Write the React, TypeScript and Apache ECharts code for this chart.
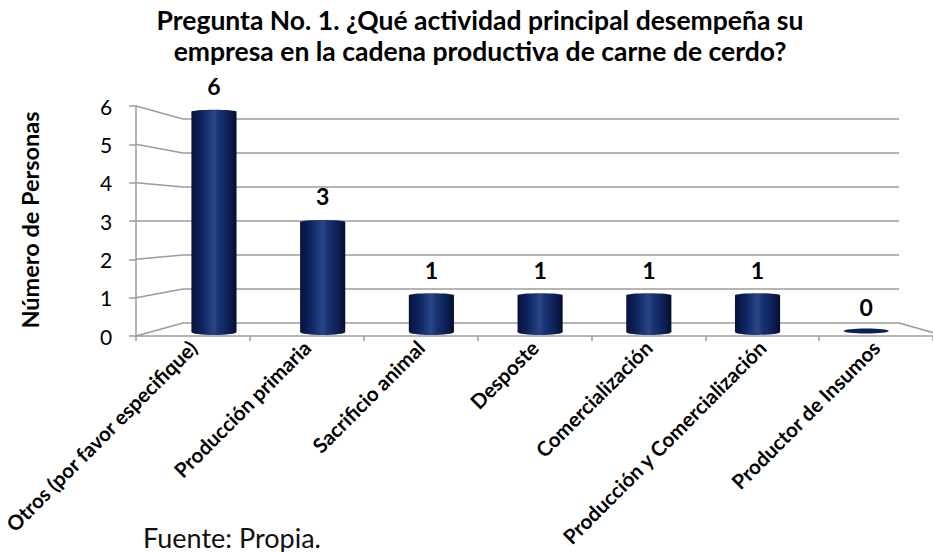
import React, { useEffect, useRef } from "react";
import * as echarts from "echarts";

const categories = [
  "Otros (por favor especifique)",
  "Producción primaria",
  "Sacrificio animal",
  "Desposte",
  "Comercialización",
  "Producción y Comercialización",
  "Productor de Insumos",
];
const values = [6, 3, 1, 1, 1, 1, 0];
const yTicks = [0, 1, 2, 3, 4, 5, 6];
const titleLines = [
  "Pregunta No. 1. ¿Qué actividad principal desempeña su",
  "empresa en la cadena productiva de carne de cerdo?",
];
const yAxisTitle = "Número de Personas";
const sourceText = "Fuente: Propia.";

const FONT = "Lato, 'Noto Sans', sans-serif";
const GRID_COLOR = "#9c9c9c";

// layout (pixels)
const FRONT = { left: 136, top: 106, bottom: 336, width: 807 };
const BACK = { left: 183, top: 119, bottom: 323, right: 899 };
const BARS = { left: 159.6, bottom: 332, unit: 36.7, width: 761 };

export default function App() {
  const ref = useRef<HTMLDivElement>(null);
  useEffect(() => {
    document.body.style.margin = "0";
    if (!ref.current) return;
    const chart = echarts.init(ref.current, null, { renderer: "svg" });
    const yMax = yTicks[yTicks.length - 1];

    const sideLines = yTicks.map((v) => ({
      type: "line",
      silent: true,
      z: 1,
      shape: {
        x1: FRONT.left,
        y1: FRONT.bottom - (v * (FRONT.bottom - FRONT.top)) / yMax,
        x2: BACK.left,
        y2: BACK.bottom - (v * (BACK.bottom - BACK.top)) / yMax,
      },
      style: { stroke: GRID_COLOR, lineWidth: 1.5 },
    }));

    const barGradient = new echarts.graphic.LinearGradient(0, 0, 1, 0, [
      { offset: 0, color: "#06123a" },
      { offset: 0.25, color: "#0f2662" },
      { offset: 0.5, color: "#2a4688" },
      { offset: 0.6, color: "#1a3373" },
      { offset: 0.85, color: "#0c1f55" },
      { offset: 1, color: "#040c2a" },
    ]);

    chart.setOption({
      animation: false,
      backgroundColor: "#ffffff",
      grid: [
        {
          left: FRONT.left,
          top: FRONT.top,
          width: FRONT.width,
          height: FRONT.bottom - FRONT.top,
        },
        {
          left: BACK.left,
          top: BACK.top,
          width: BACK.right - BACK.left,
          height: BACK.bottom - BACK.top,
        },
        {
          left: BARS.left,
          top: BARS.bottom - yMax * BARS.unit,
          width: BARS.width,
          height: yMax * BARS.unit,
        },
      ],
      xAxis: [
        {
          type: "category",
          gridIndex: 0,
          data: categories,
          axisLine: { show: true, lineStyle: { color: GRID_COLOR, width: 1.5 } },
          axisTick: { show: true, length: 5, lineStyle: { color: GRID_COLOR, width: 1.5 } },
          axisLabel: {
            rotate: 45,
            margin: 8,
            interval: 0,
            fontFamily: FONT,
            fontWeight: "bold",
            fontSize: 20.5,
            color: "#000",
          },
          splitLine: { show: false },
        },
        {
          type: "category",
          gridIndex: 1,
          data: categories,
          show: false,
        },
        {
          type: "category",
          gridIndex: 2,
          data: categories,
          show: false,
        },
      ],
      yAxis: [
        {
          type: "value",
          gridIndex: 0,
          min: 0,
          max: yMax,
          interval: 1,
          axisLine: { show: true, lineStyle: { color: GRID_COLOR, width: 1.5 } },
          axisTick: { show: true, length: 7, lineStyle: { color: GRID_COLOR, width: 1.5 } },
          axisLabel: {
            margin: 24,
            fontFamily: FONT,
            fontSize: 21,
            color: "#000",
          },
          splitLine: { show: false },
        },
        {
          type: "value",
          gridIndex: 1,
          min: 0,
          max: yMax,
          interval: 1,
          axisLine: { show: false },
          axisTick: { show: false },
          axisLabel: { show: false },
          splitLine: { show: true, lineStyle: { color: GRID_COLOR, width: 1.5 } },
        },
        {
          type: "value",
          gridIndex: 2,
          min: 0,
          max: yMax,
          interval: 1,
          show: false,
          splitLine: { show: false },
        },
      ],
      series: [
        {
          type: "custom",
          xAxisIndex: 2,
          yAxisIndex: 2,
          z: 5,
          data: values.map((v, i) => [i, v]),
          renderItem: (params: any, api: any) => {
            const idx = api.value(0);
            const val = api.value(1);
            const top = api.coord([idx, val]);
            const base = api.coord([idx, 0]);
            const w = api.size([1, 0])[0] * 0.415;
            const cx = base[0];
            if (val === 0) {
              return {
                type: "ellipse",
                shape: { cx, cy: base[1] - 1, rx: w / 2, ry: 2.5 },
                style: { fill: "#0b1f5a" },
              };
            }
            return {
              type: "group",
              children: [
                {
                  type: "rect",
                  shape: { x: cx - w / 2, y: top[1], width: w, height: base[1] - top[1] },
                  style: { fill: barGradient },
                },
                {
                  type: "ellipse",
                  shape: { cx, cy: base[1], rx: w / 2, ry: 3 },
                  style: { fill: barGradient },
                },
                {
                  type: "ellipse",
                  shape: { cx, cy: top[1], rx: w / 2, ry: 2 },
                  style: { fill: barGradient },
                },
              ],
            };
          },
        },
        {
          type: "bar",
          xAxisIndex: 2,
          yAxisIndex: 2,
          data: values,
          barWidth: 45,
          z: 6,
          itemStyle: { color: "rgba(0,0,0,0)" },
          label: {
            show: true,
            position: "top",
            distance: 14,
            fontFamily: FONT,
            fontWeight: "bold",
            fontSize: 23,
            color: "#000",
          },
        },
      ],
      graphic: [
        ...sideLines,
        {
          type: "line",
          silent: true,
          shape: { x1: BACK.right, y1: BACK.bottom, x2: 945, y2: FRONT.bottom },
          style: { stroke: GRID_COLOR, lineWidth: 1.5 },
        },
        {
          type: "text",
          x: 480,
          y: 35,
          style: {
            text: titleLines.join("\n"),
            fontFamily: FONT,
            fontWeight: "bold",
            fontSize: 26.5,
            lineHeight: 31,
            fill: "#000",
            align: "center",
            verticalAlign: "middle",
          },
        },
        {
          type: "text",
          x: 30,
          y: 220,
          rotation: Math.PI / 2,
          style: {
            text: yAxisTitle,
            fontFamily: FONT,
            fontWeight: "bold",
            fontSize: 23.5,
            fill: "#000",
            align: "center",
            verticalAlign: "middle",
          },
        },
        {
          type: "text",
          x: 143,
          y: 537,
          style: {
            text: sourceText,
            fontFamily: FONT,
            fontSize: 27,
            fill: "#111",
            align: "left",
            verticalAlign: "middle",
          },
        },
      ],
    });
    return () => chart.dispose();
  }, []);
  return <div ref={ref} style={{ width: 933, height: 552 }} />;
}
